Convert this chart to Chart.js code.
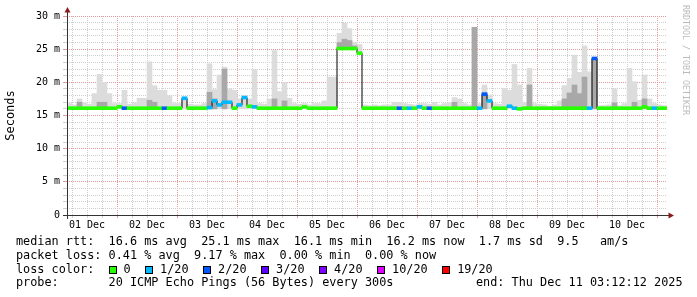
<!DOCTYPE html>
<html>
<head>
<meta charset="utf-8">
<script src="https://cdn.jsdelivr.net/npm/chart.js@4.4.1/dist/chart.umd.min.js"></script>
<style>
  html, body { margin: 0; padding: 0; background: #fff; }
  #wrap { position: relative; width: 697px; height: 297px; overflow: hidden; font-family: 'DejaVu Sans Mono', monospace; }
  #wrap canvas { position: absolute; left: 0; top: 0; }
  .t { position: absolute; font-size: 11.83px; line-height: 14px; white-space: pre; color: #000; }
  .sq { position: absolute; width: 6px; height: 6px; border: 1px solid #000; }
  #wm { position: absolute; left: 681px; top: 5px; writing-mode: vertical-rl; font-size: 8.3px; line-height: 10px; color: #bbb; white-space: pre; }
</style>
</head>
<body>
<div id="wrap">
  <canvas id="chart" width="697" height="297"></canvas>
  <div id="wm">RRDTOOL / TOBI OETIKER</div>
  <div class="t" style="left:16px;top:234px">median rtt:  16.6 ms avg  25.1 ms max  16.1 ms min  16.2 ms now  1.7 ms sd  9.5   am/s</div>
  <div class="t" style="left:16px;top:248px">packet loss: 0.41 % avg  9.17 % max  0.00 % min  0.00 % now</div>
  <div class="t" style="left:16px;top:262px">loss color:</div>
  <div id="lossLegend"></div>
  <div class="t" style="left:16px;top:275px">probe:       20 ICMP Echo Pings (56 Bytes) every 300s</div>
  <div class="t" style="left:476px;top:275px">end: Thu Dec 11 03:12:12 2025</div>
</div>
<script>
// hours since 01 Dec 00:00, one slot = 2 hours
var hourStart = 4;
var hourEnd = 244;
var slotHours = 2;

var dayLabels = ['01 Dec', '02 Dec', '03 Dec', '04 Dec', '05 Dec', '06 Dec', '07 Dec', '08 Dec', '09 Dec', '10 Dec'];

var lossLabels = ['0', '1/20', '2/20', '3/20', '4/20', '10/20', '19/20'];
var lossColors = ['#26ff00', '#00b8ff', '#0059ff', '#5e00ff', '#7e00ff', '#dd00ff', '#ff0000'];

// median rtt (ms)
var median = [
  16.1, 16.1, 16.1, 16.1, 16.1, 16.1, 16.1, 16.1, 16.1, 16.1,
  16.3, 16.1, 16.1, 16.1, 16.1, 16.1, 16.1, 16.1, 16.1, 16.1,
  16.1, 16.1, 16.1, 17.6, 16.1, 16.1, 16.1, 16.1, 16.2, 17.2,
  16.6, 17.0, 17.0, 16.1, 16.6, 17.7, 16.4, 16.3, 16.1, 16.1,
  16.1, 16.1, 16.1, 16.1, 16.1, 16.1, 16.1, 16.3, 16.1, 16.1,
  16.1, 16.1, 16.1, 16.1, 25.1, 25.1, 25.1, 25.1, 24.4, 16.1,
  16.1, 16.1, 16.1, 16.1, 16.1, 16.1, 16.1, 16.1, 16.1, 16.1,
  16.3, 16.1, 16.1, 16.1, 16.1, 16.1, 16.1, 16.1, 16.1, 16.1,
  16.1, 16.1, 16.1, 18.2, 17.2, 16.1, 16.1, 16.1, 16.4, 16.1,
  16.0, 16.1, 16.1, 16.1, 16.1, 16.1, 16.1, 16.1, 16.1, 16.1,
  16.1, 16.1, 16.1, 16.1, 16.1, 23.6, 16.1, 16.1, 16.1, 16.1,
  16.1, 16.1, 16.1, 16.1, 16.1, 16.3, 16.1, 16.1, 16.1, 16.1
];

// index into lossLabels / lossColors
var loss = [
  0, 0, 0, 0, 0, 0, 0, 0, 0, 0,
  0, 2, 0, 0, 0, 0, 0, 0, 0, 2,
  0, 0, 0, 1, 0, 0, 0, 0, 1, 1,
  1, 1, 1, 0, 1, 1, 0, 1, 0, 0,
  0, 0, 0, 0, 0, 0, 0, 0, 0, 0,
  0, 0, 0, 0, 0, 0, 0, 0, 0, 0,
  0, 0, 0, 0, 0, 0, 2, 0, 1, 0,
  1, 0, 2, 0, 0, 0, 0, 0, 0, 0,
  0, 0, 1, 2, 1, 0, 0, 0, 1, 1,
  0, 0, 0, 0, 0, 0, 0, 0, 0, 0,
  0, 0, 0, 0, 1, 2, 0, 0, 0, 0,
  0, 0, 0, 0, 0, 0, 0, 1, 0, 0
];

// smoke: lowest and highest ping per slot, plus the darker inner band
var smokeLo = [
  16.0, 16.0, 16.0, 16.0, 16.0, 16.0, 16.0, 16.0, 16.0, 16.0,
  16.0, 16.0, 16.0, 16.0, 16.0, 16.0, 16.0, 16.0, 16.0, 16.0,
  16.0, 16.0, 16.0, 16.0, 16.0, 16.0, 16.0, 16.0, 16.0, 16.0,
  16.0, 16.0, 16.0, 16.0, 16.0, 16.0, 16.0, 16.0, 16.0, 16.0,
  16.0, 16.0, 16.0, 16.0, 16.0, 16.0, 16.0, 16.0, 16.0, 16.0,
  16.0, 16.0, 16.0, 16.0, 25.0, 25.0, 25.0, 25.0, 24.3, 16.0,
  16.0, 16.0, 16.0, 16.0, 16.0, 16.0, 16.0, 16.0, 16.0, 16.0,
  16.0, 16.0, 16.0, 16.0, 16.0, 16.0, 16.0, 16.0, 16.0, 16.0,
  16.0, 16.0, 16.0, 16.0, 16.0, 16.0, 16.0, 16.0, 16.0, 16.0,
  16.0, 16.0, 16.0, 16.0, 16.0, 16.0, 16.0, 16.0, 16.0, 16.0,
  16.0, 16.0, 16.0, 16.0, 16.0, 16.0, 16.0, 16.0, 16.0, 16.0,
  16.0, 16.0, 16.0, 16.0, 16.0, 16.0, 16.0, 16.0, 16.0, 16.0
];

var smokeHi = [
  16.8, 16.6, 17.5, 16.9, 16.7, 18.3, 21.2, 20.0, 18.3, 16.8,
  16.8, 18.8, 16.7, 16.9, 17.6, 17.6, 23.1, 19.5, 18.8, 18.8,
  18.0, 16.8, 16.8, 17.8, 16.7, 16.6, 16.6, 16.8, 22.8, 18.9,
  21.1, 22.3, 19.0, 18.8, 17.5, 18.0, 17.5, 21.9, 16.8, 16.7,
  17.5, 24.8, 18.6, 20.0, 17.6, 16.8, 16.7, 16.8, 16.6, 16.8,
  16.8, 17.2, 20.8, 20.8, 27.4, 28.9, 28.1, 26.0, 25.7, 16.6,
  16.5, 16.6, 16.5, 16.6, 16.6, 17.0, 17.0, 16.8, 16.7, 16.6,
  16.8, 16.8, 16.7, 17.0, 16.6, 16.8, 16.9, 17.7, 17.5, 16.8,
  16.6, 28.3, 16.8, 19.6, 18.1, 16.8, 16.7, 19.1, 18.8, 22.7,
  19.6, 17.0, 22.1, 16.8, 16.7, 16.6, 16.4, 16.6, 17.2, 19.5,
  20.6, 24.1, 21.5, 25.5, 21.6, 23.6, 16.5, 16.5, 16.6, 19.0,
  16.5, 16.8, 22.1, 20.1, 17.3, 21.1, 17.5, 16.8, 16.6, 16.5
];

var smokeMid = [
  null, null, 17.0, null, null, null, 17.0, 17.0, null, null,
  null, null, null, null, null, null, 17.3, 17.0, null, null,
  null, null, null, null, null, null, null, null, 18.5, 17.5,
  null, 22.0, null, null, null, null, null, null, null, null,
  null, 17.5, null, 17.2, null, null, null, null, null, null,
  null, null, null, null, 26.0, 26.5, 26.3, 25.5, null, null,
  null, null, null, null, null, null, null, null, null, null,
  null, null, null, null, null, null, null, 17.0, null, null,
  null, 28.3, null, 18.5, null, null, null, null, null, null,
  null, null, 19.6, null, null, null, null, null, null, 17.5,
  18.4, 19.6, 18.3, 20.8, null, 23.6, null, null, null, 16.9,
  null, null, null, 17.0, null, 17.5, null, null, null, null
];

var minorGrid = '#cfcfcf';
var majorGrid = '#e39a9a';
var monoFont = 'DejaVu Sans Mono';

function slotCenter(i) { return hourStart + slotHours * i + slotHours / 2; }

var medianBand = median.map(function(m, i) { return {x: slotCenter(i), y: [m - 0.22, m + 0.22]}; });
var stepLine = median.map(function(m, i) { return {x: hourStart + slotHours * i, y: m}; });
stepLine.push({x: hourEnd, y: median[median.length - 1]});
var smokeOuter = smokeHi.map(function(v, i) { return {x: slotCenter(i), y: [smokeLo[i], v]}; });
var smokeInner = [];
smokeMid.forEach(function(v, i) {
  if (v !== null) smokeInner.push({x: slotCenter(i), y: [smokeLo[i], v]});
});

var xTicks = [];
for (var h = 6; h <= 240; h += 6) xTicks.push({value: h});
var yTicks = [];
for (var v = 0; v <= 30; v++) yTicks.push({value: v});

// axis lines with the little arrows, drawn over everything like rrdtool does
var axisArrows = {
  id: 'axisArrows',
  afterDraw: function(chart) {
    var ctx = chart.ctx, a = chart.chartArea;
    ctx.save();
    ctx.strokeStyle = '#333';
    ctx.lineWidth = 1;
    ctx.beginPath();
    ctx.moveTo(a.left - 4, a.bottom + 0.5);
    ctx.lineTo(a.right + 2, a.bottom + 0.5);
    ctx.moveTo(a.left + 0.5, a.bottom + 4);
    ctx.lineTo(a.left + 0.5, a.top - 5);
    ctx.stroke();
    ctx.fillStyle = '#8b1a1a';
    ctx.beginPath();
    ctx.moveTo(a.left + 0.5, a.top - 9);
    ctx.lineTo(a.left - 2.5, a.top - 3.5);
    ctx.lineTo(a.left + 3.5, a.top - 3.5);
    ctx.fill();
    ctx.beginPath();
    ctx.moveTo(a.right + 7, a.bottom + 0.5);
    ctx.lineTo(a.right + 1.5, a.bottom - 2.5);
    ctx.lineTo(a.right + 1.5, a.bottom + 3.5);
    ctx.fill();
    ctx.restore();
  }
};

new Chart(document.getElementById('chart'), {
  type: 'bar',
  data: {
    datasets: [
      {label: 'median', data: medianBand, backgroundColor: loss.map(function(k) { return lossColors[k]; }),
       grouped: false, barPercentage: 1, categoryPercentage: 1, borderWidth: 0},
      {type: 'line', label: 'median step', data: stepLine, stepped: true, borderColor: '#000',
       borderWidth: 1, pointRadius: 0, fill: false},
      {label: 'smoke inner', data: smokeInner, backgroundColor: '#a8a8a8',
       grouped: false, barPercentage: 1, categoryPercentage: 1, borderWidth: 0},
      {label: 'smoke', data: smokeOuter, backgroundColor: '#dcdcdc',
       grouped: false, barPercentage: 1, categoryPercentage: 1, borderWidth: 0}
    ]
  },
  options: {
    responsive: false,
    animation: false,
    layout: {padding: {left: 0, top: 16, right: 30, bottom: 62}},
    plugins: {legend: {display: false}, tooltip: {enabled: false}},
    scales: {
      x: {
        type: 'linear', min: hourStart, max: hourEnd, offset: false,
        afterBuildTicks: function(s) { s.ticks = xTicks.slice(); },
        afterFit: function(s) { s.height = 20; },
        ticks: {
          autoSkip: false, maxRotation: 0, padding: 1, color: '#000',
          font: {family: monoFont, size: 10},
          callback: function(val) { return (val - 12) % 24 === 0 ? dayLabels[(val - 12) / 24] : ''; }
        },
        grid: {
          offset: false, lineWidth: 1, tickLength: 3, tickBorderDash: [],
          color: function(c) { return c.tick && c.tick.value % 24 === 0 ? majorGrid : minorGrid; },
          tickColor: function(c) { return c.tick && c.tick.value % 24 === 0 ? majorGrid : minorGrid; }
        },
        border: {display: false, dash: [1, 1]}
      },
      y: {
        min: 0, max: 30,
        afterBuildTicks: function(s) { s.ticks = yTicks.slice(); },
        afterFit: function(s) { s.width = 67; },
        ticks: {
          autoSkip: false, padding: 3, color: '#000',
          font: {family: monoFont, size: 10},
          callback: function(val) { return val % 5 === 0 ? (val === 0 ? '0' : val + ' m') : ''; }
        },
        grid: {
          lineWidth: 1, tickLength: 4, tickBorderDash: [],
          color: function(c) { return c.tick && c.tick.value % 5 === 0 ? majorGrid : minorGrid; },
          tickColor: function(c) { return c.tick && c.tick.value % 5 === 0 ? majorGrid : minorGrid; }
        },
        border: {display: false, dash: [1, 1]},
        title: {display: true, text: 'Seconds', color: '#000', font: {family: monoFont, size: 12}, padding: {top: 4, bottom: 4}}
      }
    }
  },
  plugins: [axisArrows]
});

// loss colour legend
var legend = document.getElementById('lossLegend');
var lx = 108.5;
lossLabels.forEach(function(lab, k) {
  var sq = document.createElement('div');
  sq.className = 'sq';
  sq.style.left = lx + 'px';
  sq.style.top = '266px';
  sq.style.background = lossColors[k];
  legend.appendChild(sq);
  var t = document.createElement('div');
  t.className = 't';
  t.style.left = (lx + 15) + 'px';
  t.style.top = '262px';
  t.textContent = lab;
  legend.appendChild(t);
  lx = lx + 15 + lab.length * 7.12 + 14.5;
});
</script>
</body>
</html>
